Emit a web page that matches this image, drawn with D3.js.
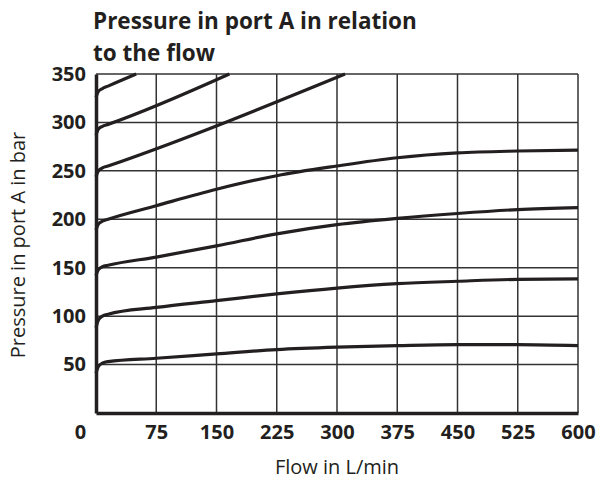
<!DOCTYPE html>
<html><head><meta charset="utf-8">
<script src="https://cdn.jsdelivr.net/npm/d3@7"></script>
<style>body{margin:0;background:#fff}svg{display:block}</style>
</head><body>
<svg id="chart" width="602" height="482"></svg>
<script>
// Data
const title = ["Pressure in port A in relation", "to the flow"];
const xLabel = "Flow in L/min";
const yLabel = "Pressure in port A in bar";
const xTicks = [0, 75, 150, 225, 300, 375, 450, 525, 600];
const yTicks = [50, 100, 150, 200, 250, 300, 350];
const flow1 = [0, 3, 8, 15, 75, 150, 225, 300, 375, 450, 525, 600];
const curve50 = [41, 48, 51.5, 53, 56.5, 61, 65.5, 68, 69.5, 70.5, 70.5, 69.5];
const curve100 = [88, 96, 100, 102, 109, 116, 123, 129, 133.5, 136, 138, 138.5];
const curve150 = [142, 148, 151, 152.5, 161, 172.5, 185, 194.5, 201, 206, 210, 212];
const curve200 = [189, 195, 198, 200, 214, 231, 245, 255, 263.5, 268.5, 270.5, 271.5];
const flow250 = [0, 3, 8, 15, 310];
const curve250 = [244, 250, 253, 255, 350];
const flow300 = [0, 3, 8, 15, 166];
const curve300 = [287, 293, 296, 298, 350];
const flow350 = [0, 3, 8, 15, 50];
const curve350 = [326, 332, 335, 337.5, 350];

const series = [
  {x: flow1, y: curve50}, {x: flow1, y: curve100}, {x: flow1, y: curve150},
  {x: flow1, y: curve200}, {x: flow250, y: curve250}, {x: flow300, y: curve300},
  {x: flow350, y: curve350}
];

const svg = d3.select("#chart");
const m = {left: 96, right: 24, top: 74, bottom: 69};
const W = 602, H = 482;
const x = d3.scaleLinear().domain([0, 600]).range([m.left, W - m.right]);
const y = d3.scaleLinear().domain([0, 350]).range([H - m.bottom, m.top]);
const ink = "#231f20";
const font = "'Open Sans', sans-serif";

// Title
svg.append("text").attr("x", 93).attr("y", 29)
  .attr("font-family", font).attr("font-weight", 700).attr("font-size", 22.5).attr("fill", ink)
  .selectAll("tspan").data(title).join("tspan")
  .attr("x", 93).attr("dy", (d, i) => i ? 31.5 : 0).text(d => d);

// Grid
const g = svg.append("g");
g.selectAll("line.vx").data(xTicks.slice(1)).join("line")
  .attr("x1", d => x(d)).attr("x2", d => x(d)).attr("y1", y(0)).attr("y2", y(350))
  .attr("stroke", "#333").attr("stroke-width", 1.5);
g.selectAll("line.hy").data(yTicks).join("line")
  .attr("x1", x(0)).attr("x2", x(600)).attr("y1", d => y(d)).attr("y2", d => y(d))
  .attr("stroke", "#333").attr("stroke-width", 1.5);

// Curves
const line = d3.line().x(d => x(d[0])).y(d => y(d[1])).curve(d3.curveMonotoneX);
svg.append("g").selectAll("path").data(series).join("path")
  .attr("d", s => line(s.x.map((v, i) => [v, s.y[i]])))
  .attr("fill", "none").attr("stroke", ink).attr("stroke-width", 3.2)
  .attr("stroke-linecap", "butt");

// Axes (thick left & bottom)
const xAxis = d3.axisBottom(x).tickValues(xTicks).tickSize(0).tickPadding(12);
const xg = svg.append("g").attr("transform", `translate(0,${y(0)})`).call(xAxis);
xg.select(".domain").attr("stroke", ink).attr("stroke-width", 3.5);
xg.selectAll("text").attr("font-family", font).attr("font-weight", 700)
  .attr("font-size", 20).attr("fill", ink).attr("dy", "0.71em");
xg.selectAll(".tick").filter(d => d === 0).select("text").attr("dx", -16);

const yAxis = d3.axisLeft(y).tickValues(yTicks).tickSize(0).tickPadding(10);
const yg = svg.append("g").attr("transform", `translate(${x(0)},0)`).call(yAxis);
yg.select(".domain").attr("stroke", ink).attr("stroke-width", 3.5);
yg.selectAll("text").attr("font-family", font).attr("font-weight", 700)
  .attr("font-size", 20).attr("fill", ink);

// Axis titles
svg.append("text").attr("x", 337).attr("y", 474).attr("text-anchor", "middle")
  .attr("font-family", font).attr("font-size", 20).attr("fill", ink).text(xLabel);
svg.append("text").attr("transform", `translate(25,245) rotate(-90)`).attr("text-anchor", "middle")
  .attr("font-family", font).attr("font-size", 20).attr("fill", ink).text(yLabel);
</script>
</body></html>
